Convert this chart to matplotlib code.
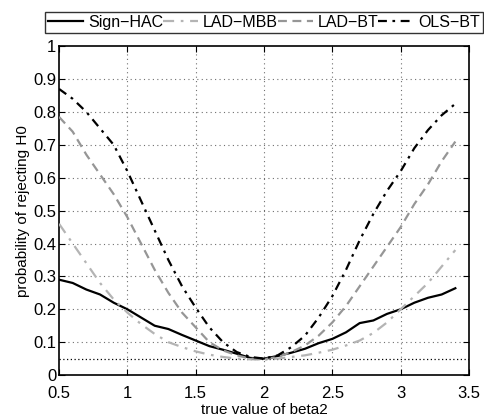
import numpy as np
import matplotlib
matplotlib.use("Agg")
import matplotlib.pyplot as plt

beta2 = [0.5, 0.6, 0.7, 0.8, 0.9, 1.0, 1.1, 1.2, 1.3, 1.4, 1.5, 1.6, 1.7, 1.8, 1.9,
         2.0, 2.1, 2.2, 2.3, 2.4, 2.5, 2.6, 2.7, 2.8, 2.9, 3.0, 3.1, 3.2, 3.3, 3.4]

sign_hac = [0.29, 0.28, 0.26, 0.245, 0.22, 0.20, 0.175, 0.15, 0.14, 0.122, 0.105, 0.088, 0.077, 0.065, 0.052,
            0.05, 0.058, 0.068, 0.08, 0.097, 0.11, 0.13, 0.158, 0.166, 0.186, 0.20, 0.22, 0.235, 0.245, 0.264]
lad_mbb = [0.46, 0.40, 0.34, 0.28, 0.23, 0.19, 0.155, 0.125, 0.10, 0.085, 0.072, 0.062, 0.055, 0.05, 0.048,
           0.047, 0.05, 0.055, 0.06, 0.068, 0.077, 0.09, 0.105, 0.128, 0.16, 0.20, 0.24, 0.28, 0.33, 0.38]
lad_bt = [0.785, 0.74, 0.67, 0.61, 0.55, 0.48, 0.40, 0.32, 0.25, 0.19, 0.145, 0.10, 0.075, 0.06, 0.05,
          0.048, 0.055, 0.07, 0.09, 0.12, 0.16, 0.21, 0.27, 0.33, 0.39, 0.45, 0.52, 0.58, 0.65, 0.71]
ols_bt = [0.87, 0.84, 0.80, 0.75, 0.70, 0.62, 0.53, 0.44, 0.35, 0.27, 0.205, 0.145, 0.10, 0.07, 0.055,
          0.05, 0.06, 0.085, 0.12, 0.175, 0.24, 0.32, 0.41, 0.49, 0.56, 0.62, 0.69, 0.745, 0.79, 0.825]

plt.rcParams['font.family'] = ['Liberation Sans', 'DejaVu Sans']

fig = plt.figure(figsize=(4.84, 4.2), dpi=100)
ax = fig.add_axes([0.122, 0.107, 0.847, 0.783])

ax.plot(beta2, sign_hac, color='black', lw=1.6, label='Sign\u2212HAC', zorder=3)
ax.plot(beta2, lad_mbb, color='#b4b4b4', lw=1.6, ls=(0, (5, 3, 1.2, 3)), label='LAD\u2212MBB', zorder=3)
ax.plot(beta2, lad_bt, color='#969696', lw=1.6, ls=(0, (4, 2.5)), label='LAD\u2212BT', zorder=3)
ax.plot(beta2, ols_bt, color='black', lw=1.6, ls=(0, (4, 2.5, 1.2, 2.5)), label='OLS\u2212BT', zorder=3)

ax.axhline(0.05, color='black', lw=0.9, ls=(0, (1, 2)), zorder=2)

ax.set_xlim(0.5, 3.5)
ax.set_ylim(0, 1)
ax.set_xticks([0.5, 1, 1.5, 2, 2.5, 3, 3.5])
ax.set_xticklabels(['0.5', '1', '1.5', '2', '2.5', '3', '3.5'])
ax.set_yticks(np.arange(0, 1.01, 0.1))
ax.set_yticklabels(['0', '0.1', '0.2', '0.3', '0.4', '0.5', '0.6', '0.7', '0.8', '0.9', '1'])
for xv in [1, 1.5, 2, 2.5, 3]:
    ax.axvline(xv, color='#707070', lw=0.8, ls=(0, (1, 3)), zorder=1)
for yv in np.arange(0.1, 0.95, 0.1):
    ax.axhline(yv, color='#707070', lw=0.8, ls=(0, (1, 3)), zorder=1)
ax.tick_params(direction='in', top=True, right=True, labelsize=12, length=4)
ax.tick_params(axis='x', pad=8)
ax.tick_params(axis='y', pad=2)
for s in ax.spines.values():
    s.set_linewidth(1.2)

ax.set_xlabel('true value of beta2', fontsize=11, labelpad=1)
ax.set_ylabel('probability of rejecting H0', fontsize=11, labelpad=2)

fig.legend(loc='lower left', bbox_to_anchor=(45/484, 1-33/420, 438/484, 27/420),
           mode='expand', ncol=4, fontsize=11.5, frameon=True, fancybox=False,
           edgecolor='black', handlelength=2.2, handletextpad=0.3, columnspacing=0.6,
           borderpad=0.2, borderaxespad=0)

fig.savefig('out.png', dpi=100)
